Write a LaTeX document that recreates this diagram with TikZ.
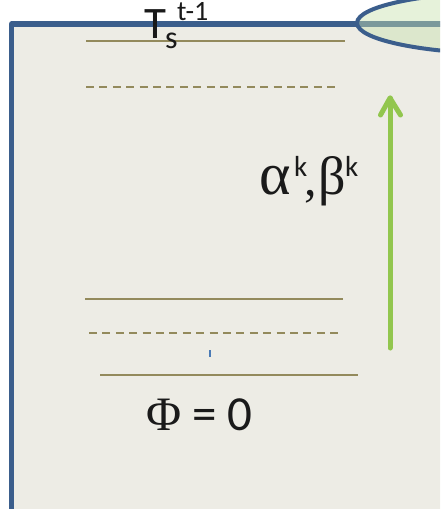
\documentclass[tikz,border=0pt]{standalone}
\usepackage{fontspec}
\setmainfont{Carlito}
\newfontfamily\grk{Liberation Serif}
\definecolor{rectfill}{HTML}{EDECE5}
\definecolor{bordblue}{HTML}{3B5E8C}
\definecolor{olive}{HTML}{938A5C}
\definecolor{ellgreen}{HTML}{C9E3AE}
\definecolor{arrgreen}{HTML}{92C64E}
\definecolor{txt}{HTML}{1A1A1A}
\definecolor{tickblue}{HTML}{4A7AB5}
\begin{document}
\begin{tikzpicture}[x=1pt,y=-1pt,
  level/.style={draw=olive,line width=2pt},
  dlevel/.style={draw=olive,line width=2pt,dash pattern=on 8pt off 5.4pt},
  arrline/.style={draw=arrgreen,line width=5pt,line cap=round,line join=round},
  lbl/.style={inner sep=0pt,outer sep=0pt,text=txt,anchor=base west}]
\useasboundingbox (0,0) rectangle (440,509);
\clip (0,0) rectangle (440,509);
\fill[white] (0,0) rectangle (440,509);
% main panel
\draw[draw=bordblue,line width=5.5pt,line join=round,fill=rectfill] (11.6,24) rectangle (470,511.5);
% ellipse
\draw[draw=bordblue,line width=4pt,fill=ellgreen,fill opacity=0.45] (512,23) ellipse [x radius=155pt,y radius=31pt];
% level lines
\coordinate (l1a) at (86,41);  \coordinate (l1b) at (345,41);
\coordinate (d1a) at (86,87);  \coordinate (d1b) at (336,87);
\coordinate (l2a) at (85,298.5); \coordinate (l2b) at (343,298.5);
\coordinate (d2a) at (89,333); \coordinate (d2b) at (339,333);
\coordinate (l3a) at (100,375); \coordinate (l3b) at (358,375);
\draw[level] (l1a) -- (l1b);
\draw[dlevel] (d1a) -- (d1b);
\draw[level] (l2a) -- (l2b);
\draw[dlevel] (d2a) -- (d2b);
\draw[level] (l3a) -- (l3b);
% small tick
\coordinate (tka) at (210,350); \coordinate (tkb) at (210,356.5);
\draw[draw=tickblue,line width=2pt] (tka) -- (tkb);
% arrow
\coordinate (abot) at (390,348);
\coordinate (atip) at (390,98);
\coordinate (abl) at (380.5,115);
\coordinate (abr) at (400.5,115);
\draw[arrline] (abot) -- (atip);
\draw[arrline] (abl) -- (atip) -- (abr);
% labels
\node[lbl,font=\fontsize{45}{45}\selectfont] (T) at (144,38.5) {T};
\node[lbl,font=\fontsize{32}{32}\selectfont] (Ts) at (165,48.5) {s};
\node[lbl,font=\fontsize{28}{28}\selectfont,text height=18pt] (Tt) at (177,20.5) {t-1};
\node[lbl,font=\grk\fontsize{60}{60}\selectfont] (alpha) at (259,194) {α};
\node[lbl,font=\fontsize{29}{29}\selectfont] (k1) at (294,176) {k};
\node[lbl,font=\grk\fontsize{50}{50}\selectfont] (comma) at (304,195) {,};
\node[lbl,font=\grk\fontsize{54}{54}\selectfont] (beta) at (318,194) {β};
\node[lbl,font=\fontsize{29}{29}\selectfont] (k2) at (345,176) {k};
\node[lbl,font=\grk\fontsize{48}{48}\selectfont] (phi) at (146,430) {Φ};
\node[lbl,font=\fontsize{49}{49}\selectfont] (eq) at (192,430) {= 0};
\end{tikzpicture}
\end{document}
